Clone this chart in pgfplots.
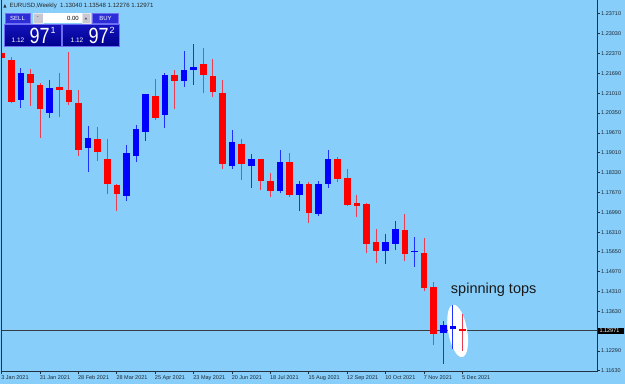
\documentclass[border=0pt]{standalone}
\usepackage{fontspec}
\setmainfont{Liberation Sans}
\usepackage{graphicx}
\usepackage{pgfplots}
\pgfplotsset{compat=1.18}
\usepackage{pgfplotstable}
\usetikzlibrary{shapes.geometric}
\definecolor{bg}{RGB}{135,206,250}
\definecolor{axcol}{RGB}{35,50,65}
\definecolor{lblcol}{RGB}{30,40,50}
\definecolor{candred}{RGB}{255,0,0}
\definecolor{candblue}{RGB}{0,0,255}
\definecolor{wickred}{RGB}{235,60,80}
\definecolor{wickblue}{RGB}{30,50,255}
\definecolor{pricel}{RGB}{55,60,65}
\definecolor{btnblue}{RGB}{45,45,215}
\definecolor{btnedge}{RGB}{110,110,245}
\definecolor{boxtop}{RGB}{20,20,190}
\definecolor{boxbot}{RGB}{0,0,140}
\definecolor{spin}{RGB}{200,200,212}

\pgfplotstableread{
i O H L C
0 1.22398 1.23490 1.21890 1.22209
1 1.22151 1.22263 1.20700 1.20727
3 1.21666 1.21836 1.20592 1.21381
4 1.21293 1.21361 1.19497 1.20480
6 1.21236 1.21700 1.20219 1.21144
7 1.21134 1.22422 1.20625 1.20727
8 1.20693 1.21124 1.18897 1.19090
10 1.19463 1.19880 1.18727 1.19032
11 1.18785 1.19463 1.17598 1.17937
12 1.17913 1.17937 1.17032 1.17598
16 1.20931 1.21517 1.20107 1.20175
18 1.21632 1.21812 1.20500 1.21449
21 1.22005 1.22568 1.21022 1.21653
22 1.21609 1.22175 1.20907 1.21066
23 1.21042 1.21473 1.18466 1.18625
25 1.19313 1.19463 1.18073 1.18625
27 1.18785 1.18800 1.17734 1.18039
28 1.18049 1.18320 1.17517 1.17700
30 1.18683 1.19008 1.17517 1.17585
32 1.17937 1.18025 1.16635 1.16974
35 1.18785 1.18863 1.18025 1.18107
36 1.18141 1.18456 1.17202 1.17246
37 1.17313 1.17574 1.16812 1.17191
38 1.17259 1.17300 1.15618 1.15924
39 1.15971 1.16412 1.15279 1.15666
42 1.16388 1.16930 1.15337 1.15564
44 1.15598 1.16107 1.14320 1.14432
45 1.14466 1.14635 1.12489 1.12873
48 1.13040 1.13548 1.12276 1.12971
}\redtab

\pgfplotstableread{
i O H L C
2 1.20805 1.21890 1.20514 1.21700
5 1.20364 1.21483 1.20195 1.21192
9 1.19158 1.19903 1.18344 1.19507
13 1.17530 1.19269 1.17361 1.18988
14 1.18886 1.19947 1.18703 1.19822
15 1.19710 1.21000 1.19405 1.20988
17 1.20297 1.21700 1.19836 1.21632
19 1.21429 1.22456 1.21236 1.21812
20 1.21802 1.22683 1.21314 1.21914
24 1.18568 1.19768 1.18466 1.19361
26 1.18568 1.18954 1.17822 1.18785
29 1.17720 1.19100 1.17632 1.18683
31 1.17574 1.18049 1.17032 1.17937
33 1.16920 1.18049 1.16862 1.17937
34 1.17937 1.19100 1.17822 1.18785
40 1.15676 1.16242 1.15225 1.15991
41 1.15924 1.16693 1.15700 1.16412
43 1.15640 1.16151 1.15134 1.15680
46 1.12906 1.13303 1.11856 1.13157
47 1.13022 1.13835 1.12344 1.13123
}\bluetab

\begin{document}
\begin{tikzpicture}
\begin{scope}[x=1pt,y=-1pt,shift={(-1.7pt,371pt)}]
\fill[bg] (0,0) rectangle (625,384);
\path[use as bounding box] (0,0) rectangle (625,384);
\end{scope}

\begin{axis}[
  at={(0pt,0pt)}, anchor=south west,
  scale only axis, width=595.8pt, height=371pt,
  xmin=0, xmax=62.07, ymin=1.11596, ymax=1.24162,
  axis line style={draw=none},
  tick align=outside, major tick length=2.5pt,
  tick style={draw=axcol, line width=0.8pt},
  xtick pos=left, ytick pos=right, yticklabel pos=right,
  xtick={0,4,...,48},
  xticklabels={3 Jan 2021,31 Jan 2021,28 Feb 2021,28 Mar 2021,25 Apr 2021,23 May 2021,20 Jun 2021,18 Jul 2021,15 Aug 2021,12 Sep 2021,10 Oct 2021,7 Nov 2021,5 Dec 2021},
  ytick={1.23710,1.23030,1.22370,1.21690,1.21010,1.20350,1.19670,1.19010,1.18330,1.17670,1.16990,1.16310,1.15650,1.14970,1.14310,1.13630,1.12290,1.11630},
  yticklabels={1.23710,1.23030,1.22370,1.21690,1.21010,1.20350,1.19670,1.19010,1.18330,1.17670,1.16990,1.16310,1.15650,1.14970,1.14310,1.13630,1.12290,1.11630},
  ticklabel style={font=\fontsize{5.5}{6}\selectfont, text=lblcol},
  xticklabel style={anchor=north west, inner sep=0pt, xshift=-0.5pt, yshift=-1.6pt},
  yticklabel style={anchor=west, inner sep=0pt, xshift=1pt},
]
\addplot[pricel, line width=0.9pt, forget plot] coordinates {(0,1.12971) (62.07,1.12971)};
\node[ellipse, fill=white, minimum width=19pt, minimum height=53pt, inner sep=0pt, rotate=10] at (axis cs:47.5,1.12968) {};
\addplot[wickred, line width=1pt, quiver={u=0, v=\thisrow{H}-\thisrow{L}}] table[x=i, y=L] {\redtab};
\addplot[wickblue, line width=1pt, quiver={u=0, v=\thisrow{H}-\thisrow{L}}] table[x=i, y=L] {\bluetab};
\addplot[candred, line width=6.6pt, quiver={u=0, v=\thisrow{C}-\thisrow{O}}] table[x=i, y=O] {\redtab};
\addplot[candblue, line width=6.6pt, quiver={u=0, v=\thisrow{C}-\thisrow{O}}] table[x=i, y=O] {\bluetab};
\end{axis}

\begin{scope}[x=1pt,y=-1pt,shift={(-1.7pt,371pt)}]
% frame
\draw[axcol, line width=0.9pt] (1.7,0) -- (1.7,371) -- (597.5,371) -- (597.5,0);
% current price label
\fill[black] (598,327.6) rectangle (624,333.4);
\node[anchor=west, inner sep=0pt, font=\fontsize{5.5}{6}\selectfont, text=white] at (599.3,330.6) {1.12971};
% annotation
\node[anchor=base, inner sep=0pt, font=\fontsize{14.5}{15}\selectfont, text=black!90] at (493.7,293.3) {spinning tops};
% title
\fill[axcol] (3.3,7.3) -- (6.5,7.3) -- (4.9,3.6) -- cycle;
\node[anchor=west, inner sep=0pt, font=\fontsize{6.1}{6.5}\selectfont, text=black!85] at (9.3,5.5) {EURUSD,Weekly\ \ 1.13040 1.13548 1.12276 1.12971};
% trade panel
\fill[btnblue, draw=btnedge, line width=0.6pt] (5,12.7) rectangle (30,23.3);
\node[font=\fontsize{6}{6}\selectfont, text=white, inner sep=0pt] at (17.5,18) {SELL};
\fill[spin, draw=white!80!gray, line width=0.4pt] (33,13) rectangle (42.7,23);
\node[font=\fontsize{6}{6}\selectfont, text=black!70, inner sep=0pt] at (37.9,17.5) {-};
\fill[white] (42.7,13) rectangle (81.7,23);
\node[anchor=east, font=\fontsize{6}{6}\selectfont, text=black, inner sep=0pt] at (79,18) {0.00};
\fill[spin, draw=white!80!gray, line width=0.4pt] (81.7,13) rectangle (90,23);
\fill[black!70] (84.6,19) -- (87.2,19) -- (85.9,17) -- cycle;
\fill[btnblue, draw=btnedge, line width=0.6pt] (92.7,12.7) rectangle (118.3,23.3);
\node[font=\fontsize{6}{6}\selectfont, text=white, inner sep=0pt] at (105.5,18) {BUY};
\shade[top color=boxtop, bottom color=boxbot] (4,24) rectangle (61,45.5);
\shade[top color=boxtop, bottom color=boxbot] (62.7,24) rectangle (119,45.5);
\draw[btnedge, line width=0.6pt] (4,24) rectangle (61,45.5);
\draw[btnedge, line width=0.6pt] (62.7,24) rectangle (119,45.5);
\node[anchor=base west, inner sep=0pt, font=\fontsize{6.5}{7}\selectfont, text=white] at (11.5,42.5) {1.12};
\node[anchor=base west, inner sep=0pt, font=\fontsize{22}{22}\selectfont, text=white] at (29.5,42.7) {\scalebox{0.82}[1]{97}};
\node[anchor=base west, inner sep=0pt, font=\fontsize{9}{9}\selectfont, text=white] at (50.5,33.3) {1};
\node[anchor=base west, inner sep=0pt, font=\fontsize{6.5}{7}\selectfont, text=white] at (70.5,42.5) {1.12};
\node[anchor=base west, inner sep=0pt, font=\fontsize{22}{22}\selectfont, text=white] at (88.3,42.7) {\scalebox{0.82}[1]{97}};
\node[anchor=base west, inner sep=0pt, font=\fontsize{9}{9}\selectfont, text=white] at (109.5,33.3) {2};
\end{scope}
\end{tikzpicture}
\end{document}
